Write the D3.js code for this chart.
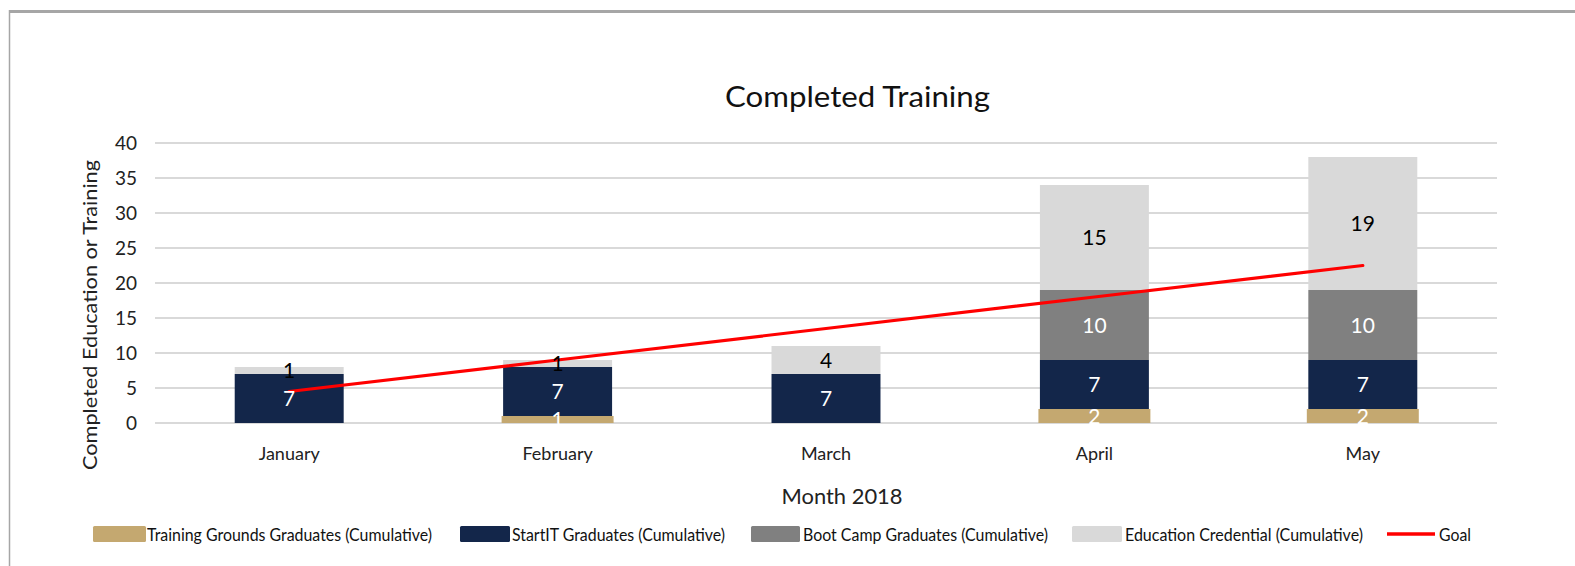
<!DOCTYPE html>
<html>
<head>
<meta charset="utf-8">
<script src="https://cdn.jsdelivr.net/npm/d3@7"></script>
<style>
  html, body { margin: 0; padding: 0; background: #fff; }
  svg { display: block; font-family: Lato, "Open Sans", sans-serif; }
</style>
</head>
<body>
<svg id="chart" width="1575" height="566"></svg>
<script>
// ---- data ----
const months = ["January", "February", "March", "April", "May"];
const trainingGrounds = [0, 1, 0, 2, 2];
const startIT = [7, 7, 7, 7, 7];
const bootCamp = [0, 0, 0, 10, 10];
const credential = [1, 1, 4, 15, 19];
const goal = [4.5, 9, 13.5, 18, 22.5];
const yTicks = [0, 5, 10, 15, 20, 25, 30, 35, 40];
const seriesNames = [
  "Training Grounds Graduates (Cumulative)",
  "StartIT Graduates (Cumulative)",
  "Boot Camp Graduates (Cumulative)",
  "Education Credential (Cumulative)"
];
const goalName = "Goal";
const titleText = "Completed Training";
const xTitle = "Month 2018";
const yTitle = "Completed Education or Training";

// ---- styles ----
const colors = ["#C4A870", "#13264A", "#808080", "#D9D9D9"];
const labelColors = ["#FFFFFF", "#FFFFFF", "#FFFFFF", "#000000"];
const goalColor = "#FF0000";

const svg = d3.select("#chart");

// frame
svg.append("line").attr("x1", 9).attr("x2", 1575).attr("y1", 11.5).attr("y2", 11.5)
  .attr("stroke", "#A6A6A6").attr("stroke-width", 3);
svg.append("line").attr("x1", 9.5).attr("x2", 9.5).attr("y1", 10).attr("y2", 566)
  .attr("stroke", "#A6A6A6").attr("stroke-width", 1.5);

const x = d3.scaleBand().domain(months).range([155, 1497])
  .paddingInner(0.594).paddingOuter(0.297);
const y = d3.scaleLinear().domain([0, 40]).range([423, 143]);

// gridlines
svg.append("g").selectAll("line").data(yTicks).join("line")
  .attr("x1", 155).attr("x2", 1497)
  .attr("y1", d => y(d)).attr("y2", d => y(d))
  .attr("stroke", "#D9D9D9").attr("stroke-width", 2);

// y axis labels
const yAxis = svg.append("g").attr("transform", "translate(137,0)")
  .call(d3.axisLeft(y).tickValues(yTicks).tickSize(0).tickPadding(0));
yAxis.select(".domain").remove();
yAxis.selectAll("text").attr("font-size", 19).attr("font-family", "Lato, 'Open Sans', sans-serif")
  .attr("fill", "#222");

// x axis labels
const xAxis = svg.append("g").attr("transform", "translate(0,447)")
  .call(d3.axisBottom(x).tickSize(0).tickPadding(0));
xAxis.select(".domain").remove();
xAxis.selectAll("text").attr("font-size", 18).attr("font-family", "Lato, 'Open Sans', sans-serif")
  .attr("fill", "#222").attr("dy", "0.71em");

// stacked data
const table = months.map((m, i) => ({
  month: m, s0: trainingGrounds[i], s1: startIT[i], s2: bootCamp[i], s3: credential[i]
}));
const stack = d3.stack().keys(["s0", "s1", "s2", "s3"])(table);

const bw = x.bandwidth();
stack.forEach((layer, li) => {
  const g = svg.append("g");
  g.selectAll("rect").data(layer.filter(d => d[1] - d[0] > 0)).join("rect")
    .attr("x", d => x(d.data.month) - (li === 0 ? 1.5 : 0))
    .attr("width", bw + (li === 0 ? 3 : 0))
    .attr("y", d => y(d[1]))
    .attr("height", d => y(d[0]) - y(d[1]))
    .attr("fill", colors[li]);
});

// goal line
const line = d3.line().x((d, i) => x(months[i]) + bw / 2).y(d => y(d));
svg.append("path").datum(goal).attr("d", line)
  .attr("fill", "none").attr("stroke", goalColor).attr("stroke-width", 3.2)
  .attr("stroke-linecap", "round");

// data labels
stack.forEach((layer, li) => {
  svg.append("g").selectAll("text").data(layer.filter(d => d[1] - d[0] > 0)).join("text")
    .attr("x", d => x(d.data.month) + bw / 2)
    .attr("y", d => y((d[0] + d[1]) / 2))
    .attr("dy", "0.36em")
    .attr("text-anchor", "middle")
    .attr("font-size", 21)
    .attr("fill", labelColors[li])
    .text(d => d[1] - d[0]);
});

// title
svg.append("text").attr("x", 857.5).attr("y", 107).attr("text-anchor", "middle")
  .attr("font-size", 28).attr("fill", "#111")
  .attr("textLength", 265).attr("lengthAdjust", "spacingAndGlyphs")
  .text(titleText);

// axis titles
svg.append("text").attr("x", 842).attr("y", 504).attr("text-anchor", "middle")
  .attr("font-size", 21).attr("fill", "#222")
  .attr("textLength", 121).attr("lengthAdjust", "spacingAndGlyphs")
  .text(xTitle);
svg.append("text").attr("transform", "translate(97,315) rotate(-90)")
  .attr("text-anchor", "middle").attr("font-size", 19).attr("fill", "#222")
  .attr("textLength", 310).attr("lengthAdjust", "spacingAndGlyphs")
  .text(yTitle);

// legend
const legendSw = [[93, 146], [460, 510], [751, 800], [1072, 1122]];
const legendTx = [[147, 432], [512, 725], [803, 1048], [1125, 1363]];
const lg = svg.append("g");
seriesNames.forEach((name, i) => {
  lg.append("rect").attr("x", legendSw[i][0]).attr("y", 526)
    .attr("width", legendSw[i][1] - legendSw[i][0]).attr("height", 16)
    .attr("rx", 1.5).attr("fill", colors[i]);
  lg.append("text").attr("x", legendTx[i][0]).attr("y", 540.5)
    .attr("font-size", 18).attr("fill", "#111")
    .attr("textLength", legendTx[i][1] - legendTx[i][0]).attr("lengthAdjust", "spacingAndGlyphs")
    .text(name);
});
lg.append("line").attr("x1", 1387).attr("x2", 1435).attr("y1", 534).attr("y2", 534)
  .attr("stroke", goalColor).attr("stroke-width", 3.5);
lg.append("text").attr("x", 1439).attr("y", 540.5).attr("font-size", 18).attr("fill", "#111")
  .attr("textLength", 32).attr("lengthAdjust", "spacingAndGlyphs").text(goalName);
</script>
</body>
</html>
